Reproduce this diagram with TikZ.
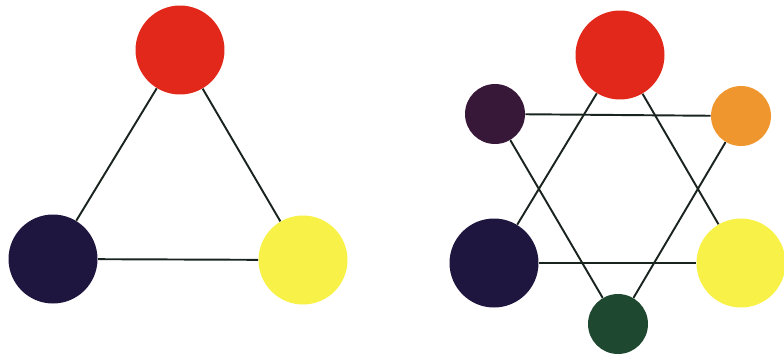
\documentclass[tikz,border=0pt]{standalone}
\usepackage{tikz}
\usetikzlibrary{positioning}
\definecolor{primred}{RGB}{226, 40, 26}
\definecolor{primblue}{RGB}{30, 22, 62}
\definecolor{primyellow}{RGB}{248, 242, 72}
\definecolor{secviolet}{RGB}{56, 24, 56}
\definecolor{secorange}{RGB}{240, 150, 46}
\definecolor{secgreen}{RGB}{30, 72, 48}
\definecolor{linkcolor}{RGB}{26, 36, 30}
\tikzset{
bigdisc/.style={
  circle,
  inner sep=0pt,
  minimum size=1.78cm
},
smalldisc/.style={
  circle,
  inner sep=0pt,
  minimum size=1.2cm
},
link/.style={
  draw=linkcolor,
  line width=1.1pt
}
}
\begin{document}
\begin{tikzpicture}[x=0.02cm, y=-0.02cm]
  \useasboundingbox (0,0) rectangle (784,356);

  % --- primary triangle ---
  \node[bigdisc, fill=primred] (redl) at (180,50) {};
  \node[bigdisc, fill=primblue] (bluel) at (53,259) {};
  \node[bigdisc, fill=primyellow] (yellowl) at (303,260) {};
  \draw[link] (redl) -- (bluel);
  \draw[link] (redl) -- (yellowl);
  \draw[link] (bluel) -- (yellowl);

  % --- primary and secondary star ---
  \node[bigdisc, fill=primred] (redr) at (620,55) {};
  \node[bigdisc, fill=primblue] (bluer) at (494,263) {};
  \node[bigdisc, fill=primyellow] (yellowr) at (741,263) {};
  \node[smalldisc, fill=secviolet] (violetr) at (495,114) {};
  \node[smalldisc, fill=secorange] (oranger) at (741,116) {};
  \node[smalldisc, fill=secgreen] (greenr) at (618,324) {};
  \draw[link] (redr) -- (bluer);
  \draw[link] (redr) -- (yellowr);
  \draw[link] (bluer) -- (yellowr);
  \draw[link] (violetr) -- (oranger);
  \draw[link] (violetr) -- (greenr);
  \draw[link] (oranger) -- (greenr);
\end{tikzpicture}
\end{document}
